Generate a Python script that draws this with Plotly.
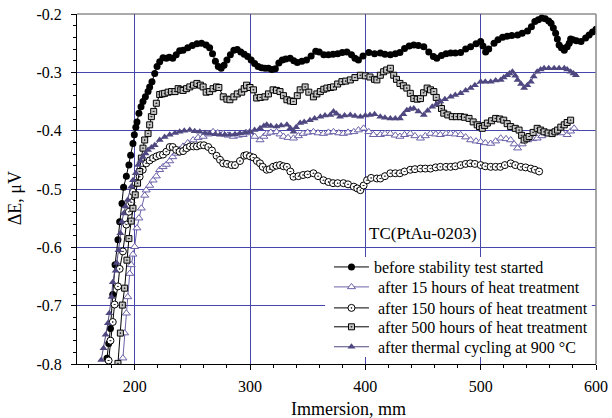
import plotly.graph_objects as go

# ---------------- data ----------------
x_before = [176, 177.5, 179, 181, 183, 185.5, 187, 189, 190.4, 192.8, 195, 196.5, 198.5, 199.7, 201, 202, 203.7, 205.5, 207.2, 209.3,
            211.6, 213, 215, 217.4, 219.4, 221.7, 224.6, 227.5, 230, 233, 236, 239, 242, 246, 250, 254, 258, 262, 265, 267.5,
            270, 272.5, 275, 277.5, 280, 283, 286, 289, 292, 295, 298, 301, 304, 307, 310, 313, 316, 319, 322, 325,
            328, 331, 334.8, 338, 341, 345, 349, 353, 357, 360, 364, 368, 372, 376, 380, 384, 388, 391, 394, 398,
            403, 408, 413, 417, 421.7, 426, 430, 434, 438, 442, 446, 450.7, 455, 459, 462, 466, 470, 474, 478, 482.6,
            487, 491.3, 496, 500, 502, 504.3, 507, 511.6, 515, 519, 523, 527, 532, 536, 540.6, 544, 547, 550, 553, 556,
            559, 561, 563, 565, 566.5, 568, 570, 572.5, 575, 576.8, 578, 580, 583, 587, 591, 594, 597, 600]
y_before = [-0.790, -0.765, -0.739, -0.681, -0.630, -0.587, -0.556, -0.525, -0.497, -0.478, -0.459, -0.442, -0.422, -0.407, -0.394, -0.385, -0.370, -0.359, -0.350, -0.342,
            -0.333, -0.325, -0.316, -0.302, -0.290, -0.282, -0.275, -0.276, -0.274, -0.276, -0.270, -0.263, -0.262, -0.258, -0.254, -0.251, -0.250, -0.253, -0.258, -0.268,
            -0.281, -0.290, -0.293, -0.288, -0.279, -0.270, -0.262, -0.261, -0.265, -0.269, -0.273, -0.279, -0.285, -0.290, -0.292, -0.293, -0.293, -0.295, -0.294, -0.284,
            -0.279, -0.277, -0.276, -0.280, -0.283, -0.281, -0.279, -0.272, -0.264, -0.265, -0.270, -0.270, -0.269, -0.268, -0.266, -0.265, -0.270, -0.276, -0.279, -0.272,
            -0.266, -0.268, -0.267, -0.269, -0.270, -0.268, -0.266, -0.259, -0.255, -0.253, -0.254, -0.256, -0.265, -0.273, -0.276, -0.271, -0.268, -0.267, -0.267, -0.266,
            -0.260, -0.256, -0.251, -0.247, -0.255, -0.265, -0.260, -0.250, -0.244, -0.240, -0.238, -0.237, -0.236, -0.233, -0.229, -0.222, -0.213, -0.210, -0.207, -0.208,
            -0.212, -0.216, -0.224, -0.233, -0.243, -0.253, -0.258, -0.262, -0.256, -0.250, -0.243, -0.244, -0.246, -0.247, -0.241, -0.236, -0.231, -0.226]

x_15h = [189.8, 191.3, 192.8, 194, 195.7, 197, 198.5, 200, 202, 203.7, 205.8, 208.7, 210, 213, 216, 218.8, 221.7, 224.6, 227.5, 230.4,
         233, 236, 239, 242, 246, 250.7, 255, 259.4, 264, 268, 272, 276.8, 281, 285.5, 290, 294, 297, 300, 304, 308.7,
         312, 314.5, 318, 323, 326, 329, 333, 337.7, 342, 346, 350, 355, 359, 363.7, 368, 372.4, 377, 381, 385, 390,
         394, 398.5, 403, 407, 413, 417, 421.7, 426, 430, 434, 439, 443, 447.8, 452, 456.5, 461, 465, 470, 474, 478,
         482.6, 487, 491.3, 496, 500, 504, 508.7, 513, 517.4, 522, 526, 529, 532, 536, 540.6, 545, 549, 553, 558, 562,
         566.7, 571, 575, 578, 581]
y_15h = [-0.790, -0.747, -0.713, -0.685, -0.645, -0.630, -0.612, -0.599, -0.567, -0.550, -0.533, -0.511, -0.502, -0.494, -0.485, -0.478, -0.467, -0.462, -0.458, -0.452,
         -0.445, -0.439, -0.433, -0.427, -0.421, -0.416, -0.412, -0.410, -0.406, -0.402, -0.404, -0.405, -0.408, -0.410, -0.408, -0.407, -0.404, -0.402, -0.410, -0.416,
         -0.410, -0.405, -0.403, -0.402, -0.406, -0.410, -0.412, -0.413, -0.409, -0.405, -0.403, -0.402, -0.404, -0.405, -0.403, -0.402, -0.404, -0.405, -0.403, -0.402,
         -0.399, -0.396, -0.402, -0.407, -0.407, -0.405, -0.405, -0.408, -0.410, -0.407, -0.405, -0.409, -0.413, -0.409, -0.405, -0.406, -0.407, -0.405, -0.405, -0.406,
         -0.407, -0.411, -0.416, -0.418, -0.419, -0.421, -0.422, -0.418, -0.413, -0.414, -0.416, -0.423, -0.430, -0.423, -0.416, -0.414, -0.413, -0.409, -0.405, -0.403,
         -0.402, -0.404, -0.407, -0.401, -0.396]

x_150h = [177.4, 179, 181, 182.6, 185.5, 187, 189.8, 192.8, 195, 197.1, 198.5, 201, 204.3, 207, 210, 213, 216, 219, 221.7, 224.6,
          227.5, 230.4, 233, 236, 239, 242, 245, 248, 251, 254, 257, 260, 263.8, 267, 271, 274, 276.8, 280, 284, 287,
          291.3, 295, 297, 300, 303, 306, 308.7, 311, 314.5, 317, 320, 323, 326, 329, 332, 335, 337.7, 342, 346, 350,
          355, 359, 363.7, 368, 372, 376, 381, 385, 390, 393, 395.7, 398.5, 401.5, 405, 410, 413, 417, 421.7, 426, 430,
          434, 439, 443, 447.8, 452, 456.5, 461, 465, 470, 474, 478, 482.6, 487, 491, 495, 500, 504, 508.7, 513, 517,
          521, 526, 530, 534.8, 539, 543.5, 547, 550.7]
y_150h = [-0.794, -0.760, -0.728, -0.698, -0.667, -0.637, -0.607, -0.561, -0.539, -0.523, -0.505, -0.490, -0.479, -0.467, -0.456, -0.451, -0.447, -0.444, -0.442, -0.441,
          -0.436, -0.428, -0.428, -0.433, -0.436, -0.435, -0.430, -0.427, -0.427, -0.427, -0.425, -0.425, -0.428, -0.434, -0.443, -0.450, -0.456, -0.457, -0.459, -0.459,
          -0.452, -0.443, -0.442, -0.444, -0.446, -0.452, -0.456, -0.462, -0.467, -0.466, -0.462, -0.460, -0.459, -0.461, -0.462, -0.470, -0.479, -0.478, -0.476, -0.475,
          -0.473, -0.478, -0.485, -0.488, -0.490, -0.490, -0.490, -0.492, -0.496, -0.499, -0.502, -0.494, -0.485, -0.481, -0.482, -0.482, -0.478, -0.473, -0.473, -0.473,
          -0.470, -0.467, -0.466, -0.465, -0.465, -0.465, -0.463, -0.462, -0.462, -0.462, -0.461, -0.459, -0.457, -0.456, -0.457, -0.459, -0.461, -0.462, -0.462, -0.462,
          -0.459, -0.456, -0.459, -0.462, -0.463, -0.465, -0.467, -0.470]

x_500h = [185.5, 187.6, 189.3, 191.3, 193.3, 195, 197, 198.5, 200.5, 202.5, 204.3, 205.8, 207.2, 208.7, 211.6, 213, 214.5, 216.5, 218.8, 221.7,
          224, 226, 229, 232, 235, 237.7, 240, 242, 245, 247.8, 251, 254, 257, 259.4, 262, 265, 268, 271, 273, 276.8,
          280, 282.6, 286, 289, 292.8, 295, 297, 300, 303, 305.8, 309, 313, 316, 320, 323, 326, 329, 332, 335, 337.7,
          341, 343.5, 347.8, 351, 355, 358, 361, 364, 366.7, 370, 372.4, 376, 379.7, 383, 387, 391, 395.7, 400, 404, 408,
          410, 413, 415.9, 418.5, 421.7, 424.6, 427, 430, 433, 436, 439, 442, 445, 447.8, 450.5, 453.6, 456.5, 459.4, 461.5, 463.7,
          466, 468, 471.5, 475.4, 479, 482.6, 486, 489.9, 493.5, 497, 499, 501.4, 503.5, 505.8, 509.5, 513, 516.5, 520, 523, 526,
          530, 533.3, 535.5, 537.7, 540, 542, 545.5, 549, 552, 555, 558.5, 562, 564.5, 566.7, 569.5, 572.5, 575, 578]
y_500h = [-0.799, -0.747, -0.699, -0.670, -0.622, -0.585, -0.555, -0.533, -0.510, -0.490, -0.470, -0.447, -0.430, -0.416, -0.405, -0.390, -0.376, -0.367, -0.353, -0.338,
          -0.337, -0.336, -0.334, -0.333, -0.333, -0.328, -0.330, -0.331, -0.328, -0.325, -0.322, -0.319, -0.322, -0.325, -0.334, -0.333, -0.328, -0.325, -0.326, -0.342,
          -0.346, -0.347, -0.342, -0.337, -0.334, -0.328, -0.322, -0.326, -0.330, -0.344, -0.343, -0.342, -0.337, -0.330, -0.331, -0.333, -0.340, -0.347, -0.349, -0.350,
          -0.340, -0.330, -0.325, -0.334, -0.342, -0.337, -0.333, -0.329, -0.327, -0.326, -0.325, -0.320, -0.316, -0.315, -0.313, -0.309, -0.305, -0.306, -0.308, -0.312,
          -0.313, -0.305, -0.299, -0.296, -0.293, -0.305, -0.312, -0.319, -0.323, -0.327, -0.336, -0.345, -0.346, -0.345, -0.335, -0.327, -0.330, -0.333, -0.343, -0.353,
          -0.362, -0.370, -0.373, -0.376, -0.376, -0.376, -0.377, -0.379, -0.385, -0.390, -0.393, -0.396, -0.391, -0.387, -0.383, -0.379, -0.380, -0.382, -0.388, -0.393,
          -0.396, -0.399, -0.408, -0.416, -0.413, -0.410, -0.403, -0.396, -0.399, -0.402, -0.404, -0.405, -0.402, -0.399, -0.394, -0.390, -0.386, -0.382]

x_cyc = [171, 173, 174.8, 176.8, 178, 180, 181, 183.5, 184.5, 186, 187.6, 189, 190.4, 192, 194, 197, 198.5, 200.9, 203, 205,
         207.2, 209.5, 211.6, 214.5, 217.4, 221.7, 226, 230.4, 235, 239, 243, 247.8, 252, 256.5, 261, 265, 270, 274, 278, 282.6,
         287, 291.3, 296, 300, 304, 308.7, 312, 314.5, 318, 323, 327, 332, 335, 337.7, 340, 343.5, 347, 352, 356, 361,
         365, 369.6, 372.4, 375, 378, 382, 387, 391, 395.7, 400, 404, 408, 413, 417, 421.7, 426, 430, 433, 436, 439,
         442, 446, 450.7, 454, 458, 461.5, 465, 469, 474, 478, 482.6, 487, 491.3, 495, 500, 504, 508.7, 513, 517.4, 520,
         523, 525, 527.5, 530, 532, 535, 537.7, 540.5, 543.5, 546, 549, 552, 555, 559, 563.7, 568, 572.5, 575, 578, 580.5,
         582.6]
y_cyc = [-0.793, -0.773, -0.750, -0.730, -0.713, -0.685, -0.660, -0.640, -0.627, -0.605, -0.576, -0.556, -0.542, -0.530, -0.519, -0.496, -0.485, -0.473, -0.459, -0.452,
         -0.445, -0.439, -0.433, -0.429, -0.425, -0.416, -0.411, -0.407, -0.404, -0.402, -0.400, -0.399, -0.401, -0.402, -0.404, -0.405, -0.406, -0.407, -0.407, -0.407,
         -0.406, -0.405, -0.403, -0.402, -0.399, -0.396, -0.392, -0.390, -0.392, -0.393, -0.391, -0.390, -0.396, -0.402, -0.394, -0.387, -0.385, -0.382, -0.379, -0.376,
         -0.374, -0.373, -0.367, -0.371, -0.376, -0.374, -0.373, -0.375, -0.376, -0.374, -0.373, -0.372, -0.376, -0.378, -0.379, -0.379, -0.379, -0.372, -0.365, -0.363,
         -0.362, -0.367, -0.373, -0.366, -0.359, -0.355, -0.350, -0.346, -0.342, -0.339, -0.336, -0.331, -0.327, -0.322, -0.316, -0.316, -0.316, -0.314, -0.313, -0.309,
         -0.305, -0.302, -0.299, -0.306, -0.313, -0.320, -0.327, -0.322, -0.316, -0.307, -0.299, -0.295, -0.293, -0.293, -0.293, -0.293, -0.293, -0.295, -0.299, -0.302,
         -0.305]

series_names = ["before stability test started",
                " after 15 hours of heat treatment",
                " after 150 hours of heat treatment",
                " after 500 hours of heat treatment",
                " after thermal cycling at 900 °C"]

x_tick_vals = [200, 300, 400, 500, 600]
x_tick_text = ["200", "300", "400", "500", "600"]
y_tick_vals = [-0.2, -0.3, -0.4, -0.5, -0.6, -0.7, -0.8]
y_tick_text = ["-0.2", "-0.3", "-0.4", "-0.5", "-0.6", "-0.7", "-0.8"]

x_title = "Immersion, mm"
y_title = "ΔE, μV"
annotation_text = "TC(PtAu-0203)"

# ---------------- styles ----------------
FONT = "Liberation Serif, Times New Roman, serif"
PURPLE_FILL = "#4f4880"
PURPLE_OPEN = "#6b62a8"
GRID = "#4646ad"

legend_ids = ["legend", "legend2", "legend3", "legend4", "legend5"]
legend_rows_y = [0.277, 0.220, 0.160, 0.106, 0.049]   # paper positions of legend rows

fig = go.Figure()

fig.add_trace(go.Scatter(
    x=x_before, y=y_before, name=series_names[0], mode="lines+markers", legend=legend_ids[0],
    line=dict(color="black", width=1),
    marker=dict(symbol="circle", size=7, color="black", line=dict(width=0))))

fig.add_trace(go.Scatter(
    x=x_15h, y=y_15h, name=series_names[1], mode="lines+markers", legend=legend_ids[1],
    line=dict(color=PURPLE_OPEN, width=1),
    marker=dict(symbol="triangle-up", size=7, color="white", line=dict(width=1, color=PURPLE_OPEN))))

fig.add_trace(go.Scatter(
    x=x_150h, y=y_150h, name=series_names[2], mode="lines+markers", legend=legend_ids[2],
    line=dict(color="black", width=1),
    marker=dict(symbol="circle-dot", size=7, color="white", line=dict(width=1, color="black"))))

fig.add_trace(go.Scatter(
    x=x_500h, y=y_500h, name=series_names[3], mode="lines+markers", legend=legend_ids[3],
    line=dict(color="black", width=1),
    marker=dict(symbol="square-dot", size=6, color="#c4c4c4", line=dict(width=1, color="black"))))

fig.add_trace(go.Scatter(
    x=x_cyc, y=y_cyc, name=series_names[4], mode="lines+markers", legend=legend_ids[4],
    line=dict(color=PURPLE_FILL, width=1),
    marker=dict(symbol="triangle-up", size=7, color=PURPLE_FILL, line=dict(width=0))))

fig.add_annotation(x=498.5, y=-0.5755, xref="x", yref="y", text=annotation_text,
                   showarrow=False, xanchor="right", yanchor="middle",
                   font=dict(family=FONT, size=17, color="black"))

# axis titles placed as annotations (fixed margins)
fig.add_annotation(x=0.524, y=-0.129, xref="paper", yref="paper", text=x_title,
                   showarrow=False, xanchor="center", yanchor="middle",
                   font=dict(family=FONT, size=18, color="black"))
fig.add_annotation(x=-0.119, y=0.474, xref="paper", yref="paper", text=y_title,
                   showarrow=False, textangle=-90, xanchor="center", yanchor="middle",
                   font=dict(family=FONT, size=18, color="black"))

# white legend background box (hides gridlines behind legend)
fig.add_shape(type="rect", xref="paper", yref="paper", x0=0.478, x1=0.992, y0=0.02, y1=0.306,
              fillcolor="white", line=dict(width=0), layer="above")

# top and right frame (gray)
fig.add_shape(type="line", xref="paper", yref="paper", x0=0, x1=1, y0=1, y1=1,
              line=dict(color="#555555", width=1))
fig.add_shape(type="line", xref="paper", yref="paper", x0=1, x1=1, y0=0, y1=1,
              line=dict(color="#888888", width=1.5))

legend_style = dict(x=0.4855, xanchor="left", yanchor="middle",
                    bgcolor="rgba(0,0,0,0)", borderwidth=0,
                    font=dict(family=FONT, size=16, color="black"),
                    itemwidth=35)

fig.update_layout(
    width=612, height=418,
    margin=dict(l=77, r=16, t=14, b=54),
    paper_bgcolor="white", plot_bgcolor="white",
    font=dict(family=FONT, size=16, color="black"),
    showlegend=True,
    legend=dict(y=legend_rows_y[0], **legend_style),
    legend2=dict(y=legend_rows_y[1], **legend_style),
    legend3=dict(y=legend_rows_y[2], **legend_style),
    legend4=dict(y=legend_rows_y[3], **legend_style),
    legend5=dict(y=legend_rows_y[4], **legend_style),
    xaxis=dict(range=[150, 600], tickmode="array", tickvals=x_tick_vals, ticktext=x_tick_text,
               automargin=False, ticklabeloverflow="allow", ticklabelstandoff=3,
               showgrid=True, gridcolor=GRID, gridwidth=1, zeroline=False,
               showline=True, linecolor="black", linewidth=1,
               ticks="outside", ticklen=5, tickcolor="black",
               minor=dict(ticks="outside", ticklen=3, dtick=20, tick0=0, tickcolor="black", showgrid=False),
               tickfont=dict(family=FONT, size=16)),
    yaxis=dict(range=[-0.8, -0.2], tickmode="array", tickvals=y_tick_vals, ticktext=y_tick_text,
               automargin=False, ticklabeloverflow="allow", ticklabelstandoff=6,
               showgrid=True, gridcolor=GRID, gridwidth=1, zeroline=False,
               showline=True, linecolor="black", linewidth=1,
               ticks="outside", ticklen=5, tickcolor="black",
               minor=dict(ticks="outside", ticklen=3, dtick=0.02, tick0=0, tickcolor="black", showgrid=False),
               tickfont=dict(family=FONT, size=16)),
)

# remove the default 8px page margin so the figure fills the window exactly
fig.write_html("out.html", config={"displayModeBar": False},
               post_script="document.body.style.margin='0';")
